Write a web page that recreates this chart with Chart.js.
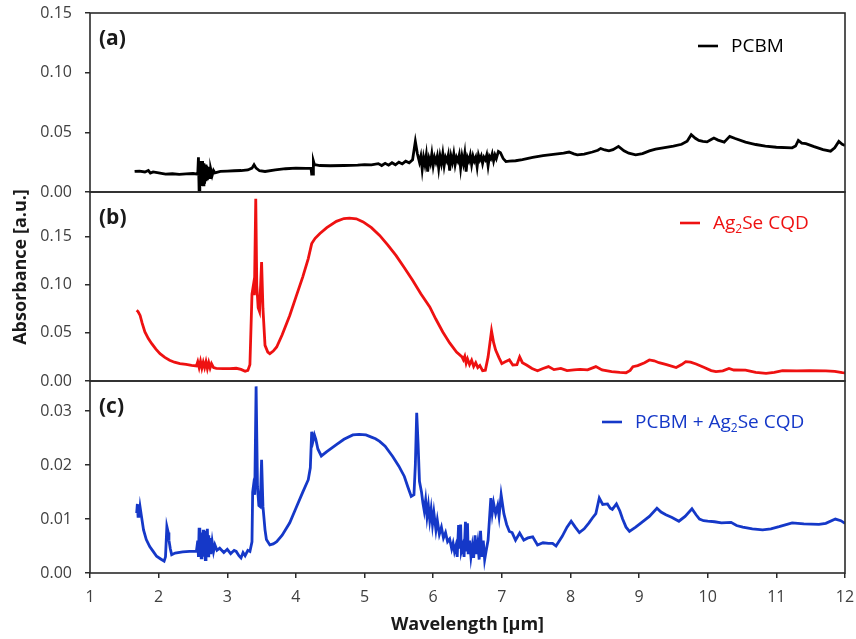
<!DOCTYPE html>
<html>
<head>
<meta charset="utf-8">
<title>Absorbance spectra</title>
<script src="https://cdn.jsdelivr.net/npm/chart.js@4.4.1/dist/chart.umd.min.js"></script>
<style>
  html, body { margin: 0; padding: 0; background: #fff; }
  #wrap { position: relative; width: 856px; height: 639px; }
</style>
</head>
<body>
<div id="wrap"><canvas id="absChart" width="856" height="639"></canvas></div>
<script>
/* ---------------- Spectra [wavelength µm, absorbance] ---------------- */
const pcbmPts = [
  [1.65,0.0172],[1.72,0.0175],[1.80,0.0168],[1.85,0.0180],[1.88,0.0158],[1.92,0.0168],[2.00,0.0160],
  [2.10,0.0150],[2.20,0.0153],[2.30,0.0148],[2.40,0.0152],[2.50,0.0155],[2.57,0.0150],
  [2.58,0.0290],[2.59,0.0000],[2.60,0.0260],[2.61,0.0050],[2.62,0.0250],[2.63,0.0080],[2.64,0.0260],
  [2.65,0.0060],[2.66,0.0240],[2.67,0.0070],[2.68,0.0230],[2.69,0.0090],[2.70,0.0220],[2.71,0.0100],
  [2.72,0.0210],[2.73,0.0110],[2.74,0.0200],[2.75,0.0120],[2.76,0.0190],[2.78,0.0140],[2.80,0.0180],
  [2.82,0.0160],[2.90,0.0172],[3.00,0.0175],[3.10,0.0178],[3.20,0.0180],[3.30,0.0185],[3.36,0.0200],
  [3.39,0.0228],[3.42,0.0200],[3.47,0.0178],[3.55,0.0172],[3.70,0.0185],[3.85,0.0195],[4.00,0.0200],
  [4.15,0.0198],[4.22,0.0200],[4.23,0.0150],[4.25,0.0150],[4.255,0.0260],[4.27,0.0230],[4.35,0.0222],
  [4.50,0.0220],[4.70,0.0222],[4.90,0.0225],[5.00,0.0230],[5.10,0.0228],[5.20,0.0238],[5.25,0.0222],
  [5.30,0.0240],[5.35,0.0225],[5.40,0.0245],[5.45,0.0228],[5.50,0.0250],[5.55,0.0235],[5.60,0.0258],
  [5.65,0.0245],[5.70,0.0270],[5.74,0.0424],[5.77,0.0320],[5.80,0.0250],
  [5.82,0.0300],[5.84,0.0190],[5.86,0.0290],[5.88,0.0230],[5.90,0.0310],[5.92,0.0170],[5.94,0.0280],
  [5.96,0.0240],[5.98,0.0320],[6.00,0.0220],[6.02,0.0290],[6.04,0.0250],[6.06,0.0300],[6.08,0.0200],
  [6.10,0.0300],[6.12,0.0240],[6.14,0.0320],[6.16,0.0220],[6.18,0.0290],[6.20,0.0260],[6.22,0.0310],
  [6.24,0.0180],[6.26,0.0300],[6.28,0.0250],[6.30,0.0320],[6.32,0.0230],[6.34,0.0290],[6.36,0.0260],
  [6.38,0.0310],[6.40,0.0200],[6.42,0.0300],[6.44,0.0240],[6.46,0.0320],[6.48,0.0170],[6.50,0.0290],
  [6.52,0.0260],[6.54,0.0310],[6.56,0.0230],[6.58,0.0300],[6.60,0.0260],[6.62,0.0290],[6.64,0.0210],
  [6.66,0.0310],[6.68,0.0270],[6.70,0.0300],[6.72,0.0240],[6.74,0.0290],[6.76,0.0270],[6.78,0.0310],
  [6.80,0.0220],[6.82,0.0300],[6.84,0.0280],[6.86,0.0320],[6.88,0.0260],[6.90,0.0310],[6.92,0.0280],
  [6.95,0.0340],[6.98,0.0330],[7.02,0.0280],[7.06,0.0255],[7.11,0.0258],[7.20,0.0262],[7.30,0.0272],
  [7.45,0.0290],[7.60,0.0305],[7.75,0.0315],[7.90,0.0325],[7.98,0.0335],[8.05,0.0320],[8.10,0.0312],
  [8.20,0.0318],[8.32,0.0335],[8.40,0.0350],[8.44,0.0365],[8.50,0.0352],[8.56,0.0345],[8.62,0.0355],
  [8.70,0.0382],[8.78,0.0345],[8.85,0.0325],[8.95,0.0312],[9.05,0.0322],[9.15,0.0345],[9.24,0.0360],
  [9.35,0.0370],[9.50,0.0385],[9.62,0.0400],[9.70,0.0425],[9.76,0.0480],[9.82,0.0450],[9.87,0.0432],
  [9.93,0.0425],[9.99,0.0420],[10.05,0.0440],[10.09,0.0452],[10.15,0.0435],[10.24,0.0418],[10.32,0.0466],
  [10.40,0.0448],[10.55,0.0418],[10.70,0.0398],[10.84,0.0385],[11.00,0.0375],[11.23,0.0370],[11.28,0.0385],
  [11.32,0.0432],[11.37,0.0410],[11.43,0.0405],[11.55,0.0380],[11.68,0.0355],[11.79,0.0342],[11.85,0.0370],
  [11.91,0.0424],[11.96,0.0400],[12.00,0.0390]
];

const ag2sePts = [
  [1.68,0.0733],[1.70,0.0720],[1.73,0.0680],[1.76,0.0600],[1.80,0.0508],[1.85,0.0440],[1.90,0.0387],
  [1.96,0.0330],[2.02,0.0283],[2.09,0.0245],[2.16,0.0215],[2.23,0.0195],[2.31,0.0180],[2.40,0.0172],
  [2.48,0.0162],[2.55,0.0156],[2.57,0.0200],[2.59,0.0140],[2.61,0.0205],[2.63,0.0135],[2.65,0.0195],
  [2.67,0.0140],[2.69,0.0200],[2.71,0.0130],[2.73,0.0190],[2.75,0.0135],[2.77,0.0180],[2.80,0.0138],
  [2.84,0.0130],[2.94,0.0128],[3.04,0.0128],[3.13,0.0132],[3.20,0.0120],[3.26,0.0100],[3.30,0.0110],
  [3.33,0.0170],[3.36,0.0900],[3.38,0.0990],[3.395,0.0890],[3.415,0.1890],[3.43,0.0990],[3.45,0.0760],
  [3.47,0.0720],[3.50,0.1234],[3.52,0.0750],[3.55,0.0370],[3.59,0.0300],[3.62,0.0283],[3.67,0.0310],
  [3.72,0.0353],[3.80,0.0480],[3.91,0.0680],[4.00,0.0870],[4.10,0.1080],[4.18,0.1270],[4.23,0.1425],
  [4.28,0.1480],[4.35,0.1530],[4.45,0.1590],[4.59,0.1656],[4.70,0.1685],[4.78,0.1690],[4.88,0.1682],
  [4.98,0.1650],[5.10,0.1590],[5.22,0.1510],[5.34,0.1410],[5.46,0.1300],[5.58,0.1175],[5.70,0.1045],
  [5.82,0.0905],[5.95,0.0768],[6.04,0.0640],[6.14,0.0508],[6.24,0.0395],[6.34,0.0300],[6.42,0.0250],
  [6.44,0.0220],[6.46,0.0255],[6.48,0.0185],[6.50,0.0230],[6.53,0.0170],[6.56,0.0215],[6.59,0.0150],
  [6.62,0.0190],[6.65,0.0140],[6.68,0.0160],[6.72,0.0107],[6.76,0.0112],[6.80,0.0250],[6.85,0.0520],
  [6.88,0.0400],[6.91,0.0320],[6.96,0.0240],[7.00,0.0180],[7.05,0.0200],[7.11,0.0219],[7.16,0.0166],
  [7.22,0.0170],[7.26,0.0250],[7.30,0.0190],[7.36,0.0166],[7.44,0.0130],[7.52,0.0107],[7.60,0.0130],
  [7.68,0.0149],[7.76,0.0118],[7.86,0.0130],[7.95,0.0107],[8.05,0.0115],[8.14,0.0120],[8.25,0.0115],
  [8.37,0.0149],[8.46,0.0114],[8.60,0.0098],[8.72,0.0090],[8.81,0.0086],[8.87,0.0110],[8.91,0.0149],
  [8.98,0.0160],[9.08,0.0190],[9.15,0.0218],[9.22,0.0210],[9.29,0.0190],[9.40,0.0170],[9.54,0.0140],
  [9.62,0.0170],[9.68,0.0200],[9.75,0.0195],[9.83,0.0176],[9.95,0.0140],[10.05,0.0108],[10.12,0.0097],
  [10.22,0.0105],[10.31,0.0130],[10.38,0.0114],[10.55,0.0112],[10.70,0.0090],[10.85,0.0080],[10.97,0.0090],
  [11.09,0.0107],[11.30,0.0105],[11.48,0.0107],[11.72,0.0105],[11.85,0.0100],[11.96,0.0086],[12.00,0.0085]
];

const blendPts = [
  [1.68,0.0111],[1.69,0.0128],[1.70,0.0105],[1.71,0.0126],[1.72,0.0108],[1.73,0.0122],[1.75,0.0105],
  [1.78,0.0080],[1.82,0.0062],[1.87,0.0049],[1.92,0.0040],[1.97,0.0031],[2.03,0.0026],[2.08,0.0022],
  [2.10,0.0030],[2.12,0.0086],[2.14,0.0075],[2.15,0.0061],[2.17,0.0045],[2.19,0.0034],[2.24,0.0037],
  [2.35,0.0039],[2.45,0.0040],[2.55,0.0040],[2.57,0.0060],[2.58,0.0030],[2.59,0.0084],[2.60,0.0040],
  [2.61,0.0075],[2.62,0.0028],[2.63,0.0070],[2.64,0.0035],[2.65,0.0080],[2.66,0.0030],[2.67,0.0072],
  [2.68,0.0025],[2.69,0.0078],[2.70,0.0038],[2.71,0.0082],[2.72,0.0032],[2.73,0.0070],[2.74,0.0040],
  [2.75,0.0065],[2.76,0.0035],[2.78,0.0058],[2.80,0.0040],[2.82,0.0052],[2.85,0.0042],[2.89,0.0046],
  [2.95,0.0038],[3.00,0.0044],[3.05,0.0036],[3.10,0.0042],[3.13,0.0040],[3.17,0.0032],[3.20,0.0028],
  [3.23,0.0038],[3.26,0.0032],[3.30,0.0042],[3.33,0.0040],[3.36,0.0058],[3.37,0.0150],[3.38,0.0160],
  [3.40,0.0145],[3.42,0.0346],[3.44,0.0160],[3.46,0.0125],[3.48,0.0123],[3.50,0.0210],[3.52,0.0123],
  [3.55,0.0080],[3.57,0.0062],[3.62,0.0052],[3.67,0.0054],[3.72,0.0058],[3.80,0.0070],[3.91,0.0093],
  [4.00,0.0120],[4.10,0.0150],[4.18,0.0173],[4.21,0.0195],[4.23,0.0262],[4.25,0.0245],[4.27,0.0256],
  [4.29,0.0248],[4.32,0.0230],[4.37,0.0217],[4.45,0.0225],[4.59,0.0238],[4.70,0.0248],[4.83,0.0256],
  [4.92,0.0257],[5.02,0.0256],[5.10,0.0252],[5.16,0.0249],[5.22,0.0244],[5.30,0.0235],[5.41,0.0216],
  [5.50,0.0198],[5.58,0.0179],[5.63,0.0160],[5.68,0.0142],[5.72,0.0145],[5.74,0.0200],[5.76,0.0297],
  [5.78,0.0240],[5.80,0.0170],[5.83,0.0150],[5.85,0.0130],[5.87,0.0115],[5.89,0.0135],[5.91,0.0105],
  [5.93,0.0125],[5.95,0.0098],[5.97,0.0118],[5.99,0.0090],[6.01,0.0112],[6.04,0.0080],[6.06,0.0098],
  [6.09,0.0072],[6.12,0.0085],[6.15,0.0065],[6.18,0.0075],[6.21,0.0058],[6.24,0.0063],[6.27,0.0045],
  [6.29,0.0055],[6.31,0.0040],[6.33,0.0050],[6.35,0.0030],[6.37,0.0089],[6.38,0.0045],[6.40,0.0090],
  [6.41,0.0040],[6.43,0.0050],[6.45,0.0030],[6.47,0.0095],[6.48,0.0040],[6.50,0.0092],[6.51,0.0035],
  [6.53,0.0060],[6.55,0.0030],[6.57,0.0050],[6.59,0.0028],[6.61,0.0070],[6.63,0.0035],[6.65,0.0055],
  [6.67,0.0025],[6.69,0.0078],[6.71,0.0030],[6.73,0.0060],[6.75,0.0025],[6.77,0.0040],[6.80,0.0061],
  [6.82,0.0100],[6.84,0.0139],[6.86,0.0111],[6.88,0.0130],[6.91,0.0110],[6.94,0.0125],[6.96,0.0105],
  [6.99,0.0145],[7.03,0.0110],[7.07,0.0090],[7.11,0.0077],[7.15,0.0075],[7.20,0.0061],[7.26,0.0074],
  [7.32,0.0061],[7.38,0.0065],[7.45,0.0067],[7.52,0.0052],[7.60,0.0056],[7.68,0.0055],[7.74,0.0055],
  [7.79,0.0050],[7.88,0.0068],[7.95,0.0085],[8.01,0.0096],[8.07,0.0085],[8.13,0.0075],[8.20,0.0082],
  [8.27,0.0093],[8.32,0.0102],[8.37,0.0110],[8.42,0.0139],[8.47,0.0127],[8.54,0.0128],[8.58,0.0120],
  [8.61,0.0118],[8.67,0.0128],[8.72,0.0115],[8.76,0.0100],[8.81,0.0085],[8.86,0.0077],[8.95,0.0085],
  [9.03,0.0093],[9.15,0.0105],[9.26,0.0120],[9.32,0.0113],[9.39,0.0108],[9.48,0.0103],[9.58,0.0096],
  [9.67,0.0105],[9.77,0.0119],[9.83,0.0108],[9.88,0.0100],[9.94,0.0097],[10.00,0.0096],[10.10,0.0095],
  [10.20,0.0093],[10.34,0.0094],[10.42,0.0088],[10.51,0.0085],[10.65,0.0082],[10.80,0.0080],[10.92,0.0082],
  [11.04,0.0086],[11.23,0.0093],[11.40,0.0091],[11.62,0.0090],[11.72,0.0092],[11.86,0.0100],[11.94,0.0097],
  [12.00,0.0092]
];

/* ---------------- Axis ticks & panel labels ---------------- */
const xTicks = [1, 2, 3, 4, 5, 6, 7, 8, 9, 10, 11, 12];
const ticksA = [0, 0.05, 0.10, 0.15];
const ticksB = [0, 0.05, 0.10, 0.15];
const ticksC = [0, 0.01, 0.02, 0.03];
const panelTags = ['(a)', '(b)', '(c)'];
const seriesNames = ['PCBM', 'Ag₂Se CQD', 'PCBM + Ag₂Se CQD'];

const FONT = "'Open Sans', 'Noto Sans', sans-serif";
const colors = ['#000000', '#ee1111', '#1538c8'];
const frameColor = '#2b2b2b';
// legend line start per panel [x, y offset from panel top]
const legendSpots = [[698, 33], [680, 31], [602, 41]];

// keep the plot box fixed: no extra room added for overhanging tick labels
function noLabelPadding(axis) {
  axis.paddingLeft = 0;
  axis.paddingRight = 0;
  axis.paddingTop = 0;
  axis.paddingBottom = 0;
}

function yPanel(ticks, max, weight) {
  return {
    type: 'linear',
    position: 'left',
    stack: 'panels',
    stackWeight: weight,
    min: 0,
    max: max,
    border: { display: false },
    grid: { drawOnChartArea: false, drawTicks: true, tickLength: 5, color: frameColor, lineWidth: 1.5 },
    ticks: {
      font: { family: FONT, size: 16 },
      color: '#404040',
      padding: 13,
      callback: v => Number(v).toFixed(2)
    },
    afterBuildTicks: axis => { axis.ticks = ticks.map(v => ({ value: v })); },
    afterFit: axis => { axis.width = 90; noLabelPadding(axis); }
  };
}

// Draws Ag₂Se style text with a real subscript
function drawSubText(ctx, text, x, y, size) {
  const parts = text.split('₂');
  let cx = x;
  parts.forEach((part, i) => {
    ctx.font = `${size}px ${FONT}`;
    ctx.fillText(part, cx, y);
    cx += ctx.measureText(part).width;
    if (i < parts.length - 1) {
      ctx.font = `${Math.round(size * 0.62)}px ${FONT}`;
      ctx.fillText('2', cx, y + size * 0.28);
      cx += ctx.measureText('2').width;
    }
  });
}

/* ---------------- Panel frames, tags, legends, y title ---------------- */
const panelDecor = {
  id: 'panelDecor',
  afterDatasetsDraw(chart) {
    const { ctx, chartArea } = chart;
    const panels = ['ya', 'yb', 'yc'].map(id => chart.scales[id]);
    ctx.save();
    ctx.strokeStyle = frameColor;
    ctx.lineWidth = 1.6;
    panels.forEach(s => ctx.strokeRect(chartArea.left, s.top, chartArea.right - chartArea.left, s.bottom - s.top));

    ctx.textBaseline = 'middle';
    panels.forEach((s, i) => {
      ctx.fillStyle = '#1a1a1a';
      ctx.font = `bold 21px ${FONT}`;
      ctx.fillText(panelTags[i], chartArea.left + 9, s.top + 26);

      const [lx, dy] = legendSpots[i];
      const ly = s.top + dy;
      ctx.strokeStyle = colors[i];
      ctx.lineWidth = 2.6;
      ctx.beginPath();
      ctx.moveTo(lx, ly);
      ctx.lineTo(lx + 20, ly);
      ctx.stroke();
      ctx.fillStyle = colors[i];
      drawSubText(ctx, seriesNames[i], lx + 33, ly + 1, 19);
    });

    // shared y title
    ctx.translate(21, 267);
    ctx.rotate(-Math.PI / 2);
    ctx.textAlign = 'center';
    ctx.fillStyle = '#1a1a1a';
    ctx.font = `bold 18px ${FONT}`;
    ctx.fillText('Absorbance [a.u.]', 0, 0);
    ctx.restore();
  }
};

const toXY = pts => pts.map(([x, y]) => ({ x, y }));
const lineStyle = { pointRadius: 0, borderWidth: 2.8, tension: 0, fill: false };

const ctx = document.getElementById('absChart').getContext('2d');
const absChart = new Chart(ctx, {
  type: 'line',
  data: {
    datasets: [
      { label: seriesNames[0], data: toXY(pcbmPts), borderColor: colors[0], yAxisID: 'ya', ...lineStyle },
      { label: seriesNames[1], data: toXY(ag2sePts), borderColor: colors[1], yAxisID: 'yb', ...lineStyle },
      { label: seriesNames[2], data: toXY(blendPts), borderColor: colors[2], yAxisID: 'yc', ...lineStyle }
    ]
  },
  options: {
    responsive: false,
    animation: false,
    layout: { padding: { left: 0, right: 11, top: 13, bottom: 0 } },
    plugins: { legend: { display: false }, tooltip: { enabled: false } },
    scales: {
      x: {
        type: 'linear',
        min: 1,
        max: 12,
        border: { display: false },
        grid: { drawOnChartArea: false, drawTicks: true, tickLength: 5, color: frameColor, lineWidth: 1.5 },
        ticks: { font: { family: FONT, size: 16 }, color: '#404040', padding: 10, maxRotation: 0 },
        afterBuildTicks: axis => { axis.ticks = xTicks.map(v => ({ value: v })); },
        title: {
          display: true,
          text: 'Wavelength [µm]',
          color: '#1a1a1a',
          font: { family: FONT, size: 18, weight: 'bold' },
          padding: { top: 0, bottom: 3 }
        },
        afterFit: axis => { axis.height = 66; noLabelPadding(axis); }
      },
      // bottom-most panel first: later stacked axes sit above it
      yc: yPanel(ticksC, 0.0356, 192),
      yb: yPanel(ticksB, 0.196, 189),
      ya: yPanel(ticksA, 0.15, 179)
    }
  },
  plugins: [panelDecor]
});
</script>
</body>
</html>
